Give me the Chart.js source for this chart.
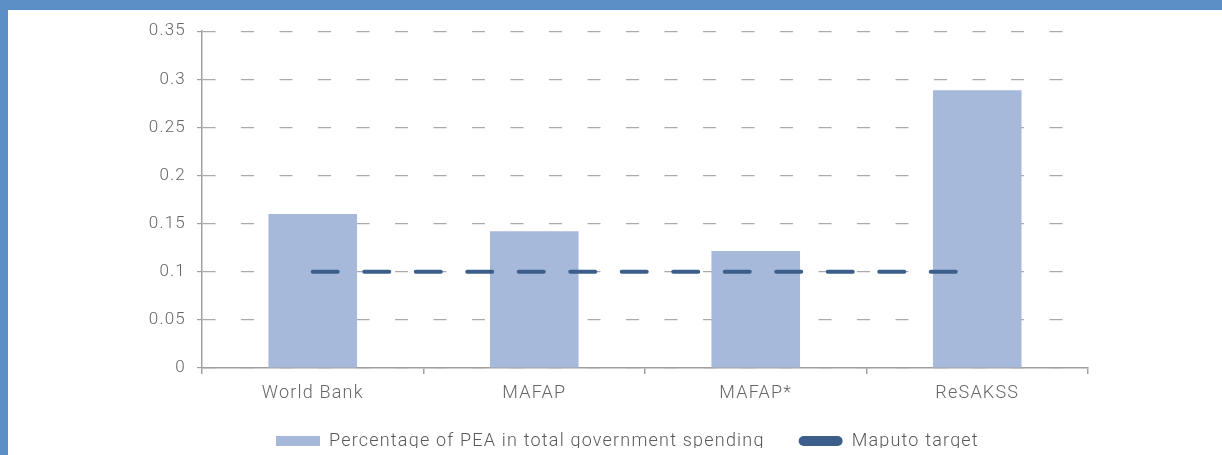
<!DOCTYPE html>
<html>
<head>
<meta charset="utf-8">
<script src="https://cdn.jsdelivr.net/npm/chart.js@4"></script>
<style>
html,body{margin:0;padding:0;background:#fff;}
#frame{position:absolute;left:0;top:0;width:1214px;height:445px;border-top:10px solid #5b8fc6;border-left:8px solid #5b8fc6;background:#fff;overflow:hidden;}
#wrap{position:relative;width:1214px;height:445px;}
</style>
</head>
<body>
<div id="frame"><div id="wrap"><canvas id="c"></canvas></div></div>
<script>
const categories = ['World Bank', 'MAFAP', 'MAFAP*', 'ReSAKSS'];
const peaShare = [0.16, 0.142, 0.1215, 0.2887];
const maputoTarget = [0.1, 0.1, 0.1, 0.1];
const yTicks = [0, 0.05, 0.1, 0.15, 0.2, 0.25, 0.3, 0.35];
const seriesNames = ['Percentage of PEA in total government spending', 'Maputo target'];

const FONT = 'Roboto';
const TXT = '#666666';
const BAR = '#a6b9db';
const LINE = '#3b5f8a';
const LEG_PAD = 34;

const spacingPlugin = {
  id: 'spacing',
  beforeUpdate(chart) { chart.ctx.letterSpacing = '1.2px'; },
  beforeDraw(chart) { chart.ctx.letterSpacing = '1.2px'; },
  afterLayout(chart) {
    const lg = chart.legend;
    if (lg) {
      const w = lg.width, h = lg.height;
      lg.left = 268 - LEG_PAD;
      lg.right = lg.left + w;
      lg.top = 422 - LEG_PAD;
      lg.bottom = lg.top + h;
    }
  }
};

new Chart(document.getElementById('c'), {
  type: 'bar',
  data: {
    labels: categories,
    datasets: [
      {
        label: seriesNames[0],
        data: peaShare,
        backgroundColor: BAR,
        borderWidth: 0,
        categoryPercentage: 1,
        barPercentage: 0.4,
        order: 2
      },
      {
        type: 'line',
        label: seriesNames[1],
        data: maputoTarget,
        borderColor: LINE,
        backgroundColor: LINE,
        borderWidth: 4,
        borderDash: [25, 26.5],
        borderCapStyle: 'round',
        pointRadius: 0,
        fill: false,
        order: 1
      }
    ]
  },
  plugins: [spacingPlugin],
  options: {
    responsive: true,
    maintainAspectRatio: false,
    animation: false,
    layout: { padding: { left: 0, right: 134, top: 21, bottom: 0 } },
    plugins: {
      tooltip: { enabled: false },
      legend: {
        position: 'bottom',
        align: 'start',
        maxHeight: 50,
        labels: {
          font: { family: FONT, size: 18, weight: 300 },
          color: '#595959',
          boxWidth: 44,
          boxHeight: 10,
          padding: LEG_PAD,
          useBorderRadius: true,
          generateLabels(chart) {
            return chart.data.datasets.map((ds, i) => ({
              text: ds.label,
              fillStyle: i === 0 ? BAR : LINE,
              strokeStyle: i === 0 ? BAR : LINE,
              lineWidth: 0,
              lineDash: [],
              borderRadius: i === 0 ? 0 : 5,
              fontColor: '#595959',
              hidden: false,
              datasetIndex: i
            }));
          }
        }
      }
    },
    scales: {
      x: {
        offset: true,
        afterFit(s) { s.height = 37; },
        grid: {
          offset: true,
          drawOnChartArea: false,
          drawTicks: true,
          tickLength: 6,
          color: '#a0a0a0',
          lineWidth: 1.5
        },
        border: { color: '#a0a0a0', width: 1.5 },
        ticks: {
          font: { family: FONT, size: 18, weight: 300 },
          color: TXT,
          padding: 9
        }
      },
      y: {
        min: 0,
        max: 0.35,
        afterFit(s) { s.width = 194; },
        afterBuildTicks(s) { s.ticks = yTicks.map(v => ({ value: v })); },
        grid: {
          color: '#aaaaaa',
          lineWidth: 1.2,
          drawTicks: true,
          tickLength: 5,
          tickColor: '#a0a0a0',
          tickBorderDash: []
        },
        border: { color: '#a0a0a0', width: 1.5, dash: [13, 25.5] },
        ticks: {
          font: { family: FONT, size: 17, weight: 300 },
          color: TXT,
          padding: 11,
          callback: (v) => String(v)
        }
      }
    }
  }
});
</script>
</body>
</html>
